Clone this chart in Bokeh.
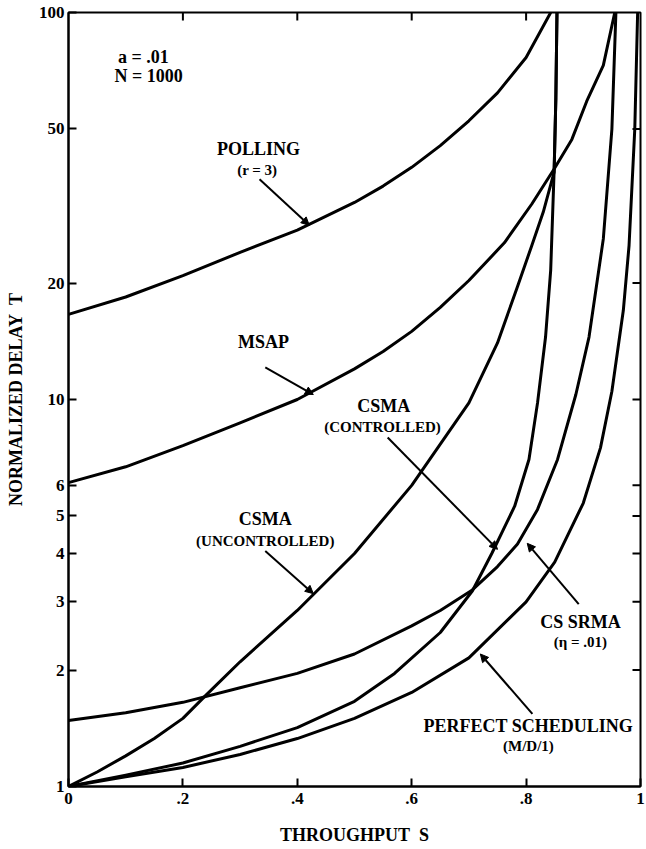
import math
from bokeh.plotting import figure
from bokeh.models import Range1d, FixedTicker, Arrow, NormalHead, Label
from bokeh.embed import file_html
from bokeh.resources import INLINE

# ---------------- data ----------------
polling_s = [0.0, 0.1, 0.2, 0.3, 0.4, 0.5, 0.55, 0.6, 0.65, 0.7, 0.75, 0.8, 0.843]
polling_t = [16.6, 18.4, 20.9, 24.0, 27.4, 32.3, 35.6, 39.8, 45.3, 52.5, 62.0, 76.5, 100.0]

msap_s = [0.0, 0.1, 0.2, 0.3, 0.4, 0.5, 0.55, 0.6, 0.65, 0.7, 0.762, 0.81, 0.849, 0.88, 0.906, 0.935, 0.955]
msap_t = [6.1, 6.7, 7.6, 8.7, 10.0, 12.0, 13.3, 15.0, 17.3, 20.3, 25.4, 32.0, 39.4, 47.0, 59.0, 73.0, 100.0]

csma_unc_s = [0.0, 0.05, 0.1, 0.15, 0.2, 0.24, 0.3, 0.4, 0.5, 0.6, 0.7, 0.75, 0.785, 0.81, 0.83, 0.849, 0.852, 0.854]
csma_unc_t = [1.0, 1.09, 1.2, 1.33, 1.5, 1.72, 2.1, 2.85, 4.0, 6.0, 9.8, 14.0, 19.6, 25.0, 30.5, 38.7, 60.0, 100.0]

csma_ctl_s = [0.0, 0.1, 0.2, 0.3, 0.4, 0.5, 0.57, 0.65, 0.706, 0.74, 0.78, 0.805, 0.82, 0.834, 0.843, 0.849, 0.852, 0.854]
csma_ctl_t = [1.0, 1.07, 1.15, 1.27, 1.42, 1.66, 1.96, 2.5, 3.2, 4.0, 5.3, 7.0, 9.8, 14.5, 21.6, 39.0, 60.0, 100.0]

cssrma_s = [0.0, 0.1, 0.2, 0.3, 0.4, 0.5, 0.6, 0.65, 0.706, 0.75, 0.785, 0.82, 0.855, 0.887, 0.91, 0.935, 0.95, 0.957]
cssrma_t = [1.48, 1.55, 1.65, 1.8, 1.96, 2.2, 2.6, 2.85, 3.22, 3.7, 4.23, 5.2, 7.0, 10.3, 14.5, 26.0, 50.0, 100.0]

perfect_s = [0.0, 0.1, 0.2, 0.3, 0.4, 0.5, 0.6, 0.7, 0.8, 0.85, 0.9, 0.93, 0.95, 0.97, 0.98, 0.99, 0.995]
perfect_t = [1.0, 1.06, 1.12, 1.21, 1.33, 1.5, 1.75, 2.15, 3.0, 3.8, 5.4, 7.5, 10.5, 17.0, 25.0, 50.0, 100.0]

x_ticks = [0, 0.2, 0.4, 0.6, 0.8, 1.0]
x_tick_labels = ["0", ".2", ".4", ".6", ".8", "1"]
y_ticks = [1, 2, 3, 4, 5, 6, 10, 20, 50, 100]
y_tick_labels = ["1", "2", "3", "4", "5", "6", "10", "20", "50", "100"]

FONT = "Liberation Serif"
X_MIN, X_MAX = 0, 1
Y_MIN, Y_MAX = 1, 100

p = figure(width=646, height=849, x_range=Range1d(X_MIN, X_MAX), y_range=Range1d(Y_MIN, Y_MAX),
           y_axis_type="log", output_backend="svg", toolbar_location=None,
           min_border_left=68, min_border_right=6, min_border_top=12, min_border_bottom=63)
p.grid.visible = False
p.outline_line_color = "black"
p.outline_line_width = 2
p.background_fill_color = "white"
p.border_fill_color = "white"

# bottom axis
xa = p.xaxis[0]
xa.ticker = FixedTicker(ticks=x_ticks)
xa.major_label_overrides = {t: l for t, l in zip(x_ticks, x_tick_labels)}
xa.major_tick_in = 8
xa.major_tick_out = 0
xa.minor_tick_in = 0
xa.minor_tick_out = 0
xa.major_tick_line_width = 2
xa.axis_line_width = 2
xa.major_label_standoff = 6
xa.major_label_text_font = FONT
xa.major_label_text_font_style = "bold"
xa.major_label_text_font_size = "17px"
xa.major_label_text_color = "black"
xa.axis_label = "THROUGHPUT\u00a0\u00a0S"
xa.axis_label_text_font = FONT
xa.axis_label_text_font_style = "bold"
xa.axis_label_text_font_size = "18px"
xa.axis_label_text_color = "black"
xa.axis_label_standoff = 18

# left axis
ya = p.yaxis[0]
ya.ticker = FixedTicker(ticks=y_ticks)
ya.major_label_overrides = {t: l for t, l in zip(y_ticks, y_tick_labels)}
ya.major_tick_in = 8
ya.major_tick_out = 0
ya.minor_tick_in = 0
ya.minor_tick_out = 0
ya.major_tick_line_width = 2
ya.axis_line_width = 2
ya.major_label_standoff = 4
ya.major_label_text_font = FONT
ya.major_label_text_font_style = "bold"
ya.major_label_text_font_size = "17px"
ya.major_label_text_color = "black"
ya.axis_label = "NORMALIZED DELAY\u00a0\u00a0T"
ya.axis_label_text_font = FONT
ya.axis_label_text_font_style = "bold"
ya.axis_label_text_font_size = "18px"
ya.axis_label_text_color = "black"
ya.axis_label_standoff = 10

# inward tick marks on the top and right frame edges
top_ticks = x_ticks[1:-1]
p.ray(x=top_ticks, y=[Y_MAX] * len(top_ticks), length=8, length_units="screen",
      angle=-math.pi / 2, line_color="black", line_width=2)
right_ticks = y_ticks[1:-1]
p.ray(x=[X_MAX] * len(right_ticks), y=right_ticks, length=8, length_units="screen",
      angle=math.pi, line_color="black", line_width=2)

# curves
for xs, ys in [(polling_s, polling_t), (msap_s, msap_t), (csma_unc_s, csma_unc_t),
               (csma_ctl_s, csma_ctl_t), (cssrma_s, cssrma_t), (perfect_s, perfect_t)]:
    p.line(xs, ys, line_color="black", line_width=3, line_join="round")

# labels
def lab(x, y, text, size):
    p.add_layout(Label(x=x, y=y, text=text, text_align="center", text_baseline="middle",
                       text_font=FONT, text_font_style="bold", text_font_size=size,
                       text_color="black"))

def arr(x0, y0, x1, y1):
    p.add_layout(Arrow(x_start=x0, y_start=y0, x_end=x1, y_end=y1, line_width=2, line_color="black",
                       end=NormalHead(size=8, fill_color="black", line_color="black")))

BIG, SMALL = "18px", "15px"

lab(0.131, 76.6, "a = .01", BIG)
lab(0.140, 68.4, "N = 1000", BIG)

lab(0.332, 44.4, "POLLING", BIG)
lab(0.330, 39.2, "(r = 3)", SMALL)
arr(0.334, 37.1, 0.421, 28.2)

lab(0.341, 14.1, "MSAP", BIG)
arr(0.344, 12.1, 0.428, 10.3)

lab(0.344, 4.91, "CSMA", BIG)
lab(0.344, 4.31, "(UNCONTROLLED)", SMALL)
arr(0.344, 4.06, 0.428, 3.15)

lab(0.551, 9.6, "CSMA", BIG)
lab(0.549, 8.5, "(CONTROLLED)", SMALL)
arr(0.558, 7.98, 0.750, 4.1)

lab(0.895, 2.66, "CS SRMA", BIG)
lab(0.895, 2.36, "(η = .01)", SMALL)
arr(0.892, 2.96, 0.802, 4.25)

lab(0.804, 1.43, "PERFECT SCHEDULING", BIG)
lab(0.804, 1.27, "(M/D/1)", SMALL)
arr(0.811, 1.54, 0.720, 2.2)

open("out.html", "w").write(file_html(p, INLINE))
